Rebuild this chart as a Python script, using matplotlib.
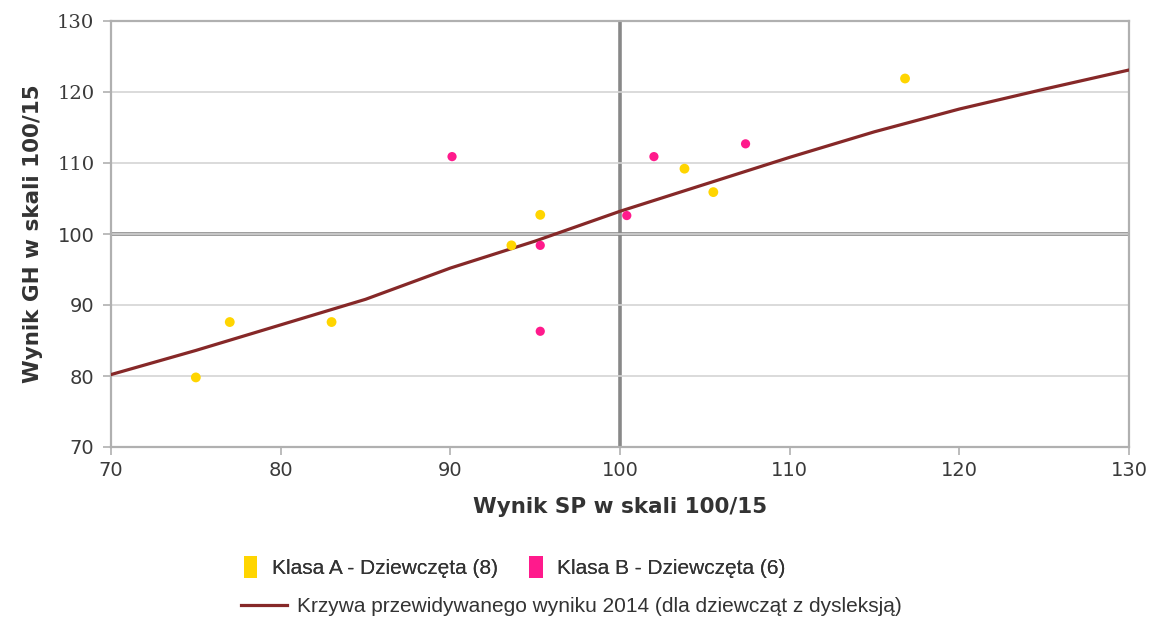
import matplotlib
matplotlib.use("Agg")
import matplotlib.pyplot as plt
from matplotlib.patches import Patch
from matplotlib.lines import Line2D

# Data
klasa_a_x = [75.0, 77.0, 83.0, 93.6, 95.3, 103.8, 105.5, 116.8]
klasa_a_y = [79.8, 87.6, 87.6, 98.4, 102.7, 109.2, 105.9, 121.9]
klasa_b_x = [90.1, 95.3, 95.3, 100.4, 102.0, 107.4]
klasa_b_y = [110.9, 98.4, 86.3, 102.6, 110.9, 112.7]
curve_x = [70, 75, 80, 85, 90, 95, 100, 105, 110, 115, 120, 125, 130]
curve_y = [80.2, 83.6, 87.2, 90.8, 95.2, 99.0, 103.2, 107.0, 110.8, 114.4, 117.6, 120.4, 123.1]
x_ticks = [70, 80, 90, 100, 110, 120, 130]
y_ticks = [70, 80, 90, 100, 110, 120, 130]

label_a = "Klasa A - Dziewczęta (8)"
label_b = "Klasa B - Dziewczęta (6)"
label_curve = "Krzywa przewidywanego wyniku 2014 (dla dziewcząt z dysleksją)"

col_a = "#ffd500"
col_b = "#ff1a8c"
col_curve = "#862828"

fig = plt.figure(figsize=(11.57, 6.21), dpi=100)
ax = fig.add_axes([111/1157, 1-447/621, (1129-111)/1157, (447-21)/621])

ax.set_xlim(70, 130)
ax.set_ylim(70, 130)
ax.set_xticks(x_ticks)
ax.set_yticks(y_ticks)
ax.grid(True, axis="y", color="#d4d4d4", lw=1.2, zorder=0)
ax.axvline(100, color="#888888", lw=2.6, zorder=1)
ax.axhline(100, color="#888888", lw=2.6, zorder=1)

ax.plot(curve_x, curve_y, color=col_curve, lw=2.3, zorder=3)
ax.scatter(klasa_a_x, klasa_a_y, s=50, color=col_a, zorder=4, edgecolors="none")
ax.scatter(klasa_b_x, klasa_b_y, s=44, color=col_b, zorder=4, edgecolors="none")

for sp in ax.spines.values():
    sp.set_color("#b0b0b0")
    sp.set_linewidth(1.6)
ax.tick_params(axis="both", colors="#b0b0b0", length=6, width=1.2,
               labelcolor="#3a3a3a", labelsize=14)
ax.tick_params(axis="x", pad=4)
ax.tick_params(axis="y", pad=6)
for lab in ax.get_yticklabels():
    if lab.get_text() in ("110", "120", "130"):
        lab.set_family("DejaVu Serif")

ax.set_xlabel("Wynik SP w skali 100/15", fontsize=15.5, fontweight="bold",
              color="#333333", labelpad=12)
ax.set_ylabel("Wynik GH w skali 100/15", fontsize=15.5, fontweight="bold",
              color="#333333", labelpad=10)

handles1 = [Patch(facecolor=col_a, edgecolor="none", label=label_a),
            Patch(facecolor=col_b, edgecolor="none", label=label_b)]
leg1 = fig.legend(handles=handles1, loc="center left",
                  bbox_to_anchor=(225/1157, 1-567/621), ncol=2, frameon=False,
                  handlelength=0.65, handleheight=1.2, handletextpad=0.7,
                  columnspacing=1.5,
                  prop={"family": "Liberation Sans", "size": 15})
for t in leg1.get_texts():
    t.set_color("#333333")
leg2 = fig.legend(handles=[Line2D([], [], color=col_curve, lw=2.3, label=label_curve)],
                  loc="center left", bbox_to_anchor=(222/1157, 1-607/621),
                  frameon=False, handlelength=2.2, handletextpad=0.5,
                  prop={"family": "Liberation Sans", "size": 15})
for t in leg2.get_texts():
    t.set_color("#333333")
fig.add_artist(leg1)

fig.savefig("out.png", dpi=100)
